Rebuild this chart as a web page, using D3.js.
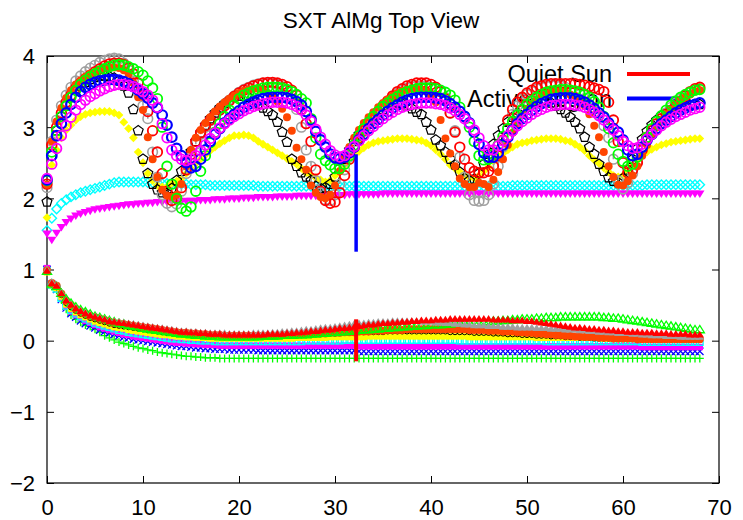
<!DOCTYPE html>
<html>
<head>
<meta charset="utf-8">
<script src="https://cdn.jsdelivr.net/npm/d3@7"></script>
<style>
  body { margin: 0; background: #fff; }
  text { font-family: "Liberation Sans", Arial, Helvetica, sans-serif; fill: #000; }
</style>
</head>
<body>
<svg id="chart" width="743" height="520"></svg>
<script>
// ---- chart text and ticks ----
const titleText = "SXT AlMg Top View";
const xTicks = [0, 10, 20, 30, 40, 50, 60, 70];
const yTicks = [-2, -1, 0, 1, 2, 3, 4];
const legendLabels = ["Quiet Sun", "Active Region"];

// samples are taken every half time unit, from t = 0 to t = 68
const timeStep = 0.5;

// ---- upper family (ratio curves, ~2 to 4) ----
const redRing = [
  2.20, 2.75, 3.00, 3.20, 3.35, 3.45, 3.55, 3.62, 3.68, 3.73,
  3.78, 3.82, 3.86, 3.89, 3.90, 3.90, 3.88, 3.83, 3.75, 3.62,
  3.45, 3.22, 2.95, 2.65, 2.35, 2.10, 1.97, 2.00, 2.15, 2.40,
  2.62, 2.80, 2.92, 3.02, 3.10, 3.17, 3.24, 3.30, 3.37, 3.43,
  3.48, 3.52, 3.55, 3.58, 3.60, 3.62, 3.63, 3.63, 3.62, 3.60,
  3.57, 3.52, 3.45, 3.25, 3.05, 2.80, 2.40, 2.10, 1.97, 1.93,
  1.95, 2.08, 2.32, 2.55, 2.72, 2.85, 2.95, 3.05, 3.13, 3.22,
  3.30, 3.37, 3.44, 3.50, 3.54, 3.58, 3.60, 3.62, 3.62, 3.62,
  3.60, 3.56, 3.50, 3.40, 3.20, 2.93, 2.72, 2.55, 2.43, 2.38,
  2.36, 2.36, 2.38, 2.45, 2.60, 2.82, 3.10, 3.25, 3.35, 3.42,
  3.48, 3.52, 3.56, 3.58, 3.60, 3.61, 3.61, 3.61, 3.61, 3.61,
  3.61, 3.60, 3.59, 3.57, 3.55, 3.53, 3.50, 3.35, 3.10, 2.80,
  2.50, 2.36, 2.40, 2.50, 2.68, 2.86, 2.95, 3.05, 3.12, 3.18,
  3.24, 3.30, 3.37, 3.44, 3.50, 3.54, 3.56
];
const grayRing = [
  2.15, 2.80, 3.10, 3.30, 3.45, 3.56, 3.65, 3.72, 3.78, 3.83,
  3.87, 3.91, 3.94, 3.96, 3.97, 3.96, 3.90, 3.80, 3.65, 3.48,
  3.30, 3.12, 2.65, 2.30, 2.05, 1.93, 1.88, 1.92, 2.10, 2.35,
  2.58, 2.76, 2.90, 3.00, 3.09, 3.17, 3.24, 3.31, 3.38, 3.44,
  3.49, 3.53, 3.56, 3.59, 3.61, 3.62, 3.62, 3.62, 3.60, 3.57,
  3.52, 3.45, 3.25, 3.00, 2.68, 2.45, 2.25, 2.08, 1.98, 1.97,
  2.05, 2.20, 2.40, 2.58, 2.72, 2.84, 2.94, 3.04, 3.12, 3.21,
  3.29, 3.36, 3.43, 3.48, 3.52, 3.55, 3.57, 3.58, 3.58, 3.58,
  3.56, 3.54, 3.50, 3.42, 3.20, 2.95, 2.58, 2.30, 2.05, 1.97,
  1.96, 1.97, 2.05, 2.20, 2.45, 2.72, 2.98, 3.18, 3.30, 3.40,
  3.46, 3.50, 3.54, 3.56, 3.58, 3.59, 3.59, 3.58, 3.56, 3.52,
  3.50, 3.46, 3.40, 3.32, 3.25, 3.17, 3.02, 2.85, 2.55, 2.25,
  2.13, 2.22, 2.35, 2.52, 2.70, 2.84, 2.95, 3.04, 3.12, 3.20,
  3.28, 3.34, 3.40, 3.45, 3.49, 3.52, 3.54
];
const greenRing = [
  2.25, 2.65, 2.95, 3.15, 3.30, 3.42, 3.52, 3.60, 3.66, 3.71,
  3.75, 3.79, 3.82, 3.85, 3.87, 3.88, 3.87, 3.85, 3.82, 3.78,
  3.73, 3.65, 3.55, 3.40, 3.00, 2.45, 2.20, 2.00, 1.86, 1.82,
  1.88, 2.10, 2.38, 2.60, 2.78, 2.93, 3.05, 3.15, 3.24, 3.31,
  3.40, 3.45, 3.48, 3.51, 3.53, 3.55, 3.56, 3.56, 3.56, 3.55,
  3.53, 3.50, 3.46, 3.40, 3.34, 3.12, 2.85, 2.62, 2.53, 2.47,
  2.42, 2.42, 2.48, 2.60, 2.75, 2.88, 2.98, 3.07, 3.15, 3.22,
  3.29, 3.34, 3.39, 3.43, 3.47, 3.50, 3.52, 3.54, 3.55, 3.55,
  3.55, 3.54, 3.52, 3.49, 3.45, 3.38, 3.28, 3.15, 3.00, 2.80,
  2.60, 2.54, 2.55, 2.62, 2.75, 2.87, 2.98, 3.08, 3.17, 3.25,
  3.32, 3.37, 3.42, 3.46, 3.49, 3.51, 3.52, 3.53, 3.53, 3.52,
  3.51, 3.49, 3.46, 3.42, 3.36, 3.28, 3.15, 2.98, 2.78, 2.62,
  2.52, 2.45, 2.48, 2.58, 2.72, 2.86, 2.98, 3.08, 3.16, 3.24,
  3.31, 3.37, 3.42, 3.46, 3.49, 3.52, 3.53
];
const blackPentagon = [
  1.95, 2.60, 2.95, 3.15, 3.30, 3.42, 3.52, 3.58, 3.63, 3.67,
  3.70, 3.72, 3.72, 3.71, 3.69, 3.65, 3.58, 3.48, 3.25, 2.95,
  2.55, 2.35, 2.20, 2.12, 2.08, 2.07, 2.14, 2.25, 2.38, 2.52,
  2.66, 2.80, 2.92, 3.03, 3.12, 3.20, 3.27, 3.33, 3.38, 3.42,
  3.44, 3.44, 3.42, 3.38, 3.33, 3.27, 3.22, 3.17, 3.07, 2.93,
  2.79, 2.55, 2.45, 2.36, 2.30, 2.25, 2.17, 2.14, 2.15, 2.20,
  2.30, 2.42, 2.55, 2.68, 2.80, 2.90, 2.98, 3.05, 3.12, 3.18,
  3.25, 3.30, 3.33, 3.34, 3.33, 3.30, 3.26, 3.21, 3.18, 3.07,
  2.96, 2.82, 2.74, 2.65, 2.55, 2.47, 2.37, 2.28, 2.25, 2.27,
  2.35, 2.48, 2.62, 2.76, 2.88, 2.98, 3.07, 3.14, 3.20, 3.25,
  3.30, 3.33, 3.35, 3.36, 3.36, 3.34, 3.30, 3.25, 3.20, 3.14,
  3.07, 2.98, 2.86, 2.72, 2.62, 2.48, 2.38, 2.29, 2.24, 2.22,
  2.28, 2.40, 2.55, 2.70, 2.83, 2.94, 3.03, 3.10, 3.16, 3.20,
  3.24, 3.27, 3.29, 3.30, 3.31, 3.32, 3.32
];
const blueRing = [
  2.26, 2.60, 2.88, 3.05, 3.20, 3.32, 3.42, 3.50, 3.56, 3.60,
  3.63, 3.65, 3.66, 3.67, 3.67, 3.66, 3.64, 3.61, 3.57, 3.52,
  3.47, 3.41, 3.34, 3.27, 3.17, 3.03, 2.86, 2.70, 2.60, 2.50,
  2.43, 2.45, 2.55, 2.68, 2.80, 2.90, 2.98, 3.06, 3.12, 3.18,
  3.23, 3.28, 3.32, 3.35, 3.38, 3.40, 3.41, 3.42, 3.42, 3.42,
  3.41, 3.39, 3.36, 3.31, 3.22, 3.10, 2.94, 2.82, 2.72, 2.62,
  2.57, 2.56, 2.58, 2.64, 2.72, 2.82, 2.90, 2.98, 3.05, 3.11,
  3.17, 3.22, 3.27, 3.31, 3.35, 3.38, 3.40, 3.41, 3.42, 3.42,
  3.42, 3.41, 3.40, 3.37, 3.33, 3.28, 3.22, 3.15, 3.06, 2.93,
  2.76, 2.64, 2.58, 2.58, 2.64, 2.75, 2.86, 2.96, 3.05, 3.12,
  3.18, 3.24, 3.29, 3.33, 3.36, 3.39, 3.40, 3.41, 3.41, 3.41,
  3.40, 3.38, 3.35, 3.31, 3.26, 3.20, 3.14, 3.06, 2.98, 2.93,
  2.82, 2.68, 2.60, 2.62, 2.72, 2.82, 2.90, 2.98, 3.05, 3.10,
  3.15, 3.20, 3.24, 3.27, 3.30, 3.32, 3.34
];
const magentaRing = [
  2.28, 2.48, 2.70, 2.88, 3.02, 3.14, 3.24, 3.32, 3.38, 3.43,
  3.47, 3.51, 3.54, 3.57, 3.59, 3.60, 3.60, 3.59, 3.57, 3.54,
  3.50, 3.45, 3.38, 3.28, 3.05, 2.85, 2.68, 2.60, 2.55, 2.53,
  2.55, 2.60, 2.67, 2.75, 2.84, 2.92, 2.99, 3.05, 3.10, 3.15,
  3.19, 3.23, 3.26, 3.29, 3.31, 3.33, 3.34, 3.35, 3.35, 3.35,
  3.34, 3.32, 3.29, 3.24, 3.17, 3.08, 2.97, 2.86, 2.76, 2.67,
  2.61, 2.58, 2.60, 2.66, 2.73, 2.81, 2.88, 2.95, 3.01, 3.07,
  3.12, 3.17, 3.21, 3.25, 3.28, 3.30, 3.32, 3.33, 3.34, 3.34,
  3.34, 3.33, 3.32, 3.30, 3.27, 3.23, 3.18, 3.12, 3.05, 2.96,
  2.85, 2.74, 2.68, 2.68, 2.74, 2.81, 2.88, 2.95, 3.02, 3.08,
  3.13, 3.18, 3.22, 3.25, 3.28, 3.30, 3.31, 3.32, 3.32, 3.32,
  3.31, 3.30, 3.28, 3.25, 3.21, 3.16, 3.10, 3.03, 2.96, 2.88,
  2.80, 2.74, 2.70, 2.71, 2.76, 2.83, 2.90, 2.96, 3.02, 3.07,
  3.11, 3.15, 3.18, 3.21, 3.24, 3.26, 3.28
];
const orangeDot = [
  2.19, 2.80, 3.08, 3.27, 3.41, 3.52, 3.60, 3.66, 3.71, 3.75,
  3.78, 3.81, 3.83, 3.84, 3.84, 3.83, 3.80, 3.75, 3.62, 3.42,
  3.24, 2.86, 2.55, 2.30, 2.12, 2.04, 2.02, 2.05, 2.20, 2.45,
  2.68, 2.85, 2.96, 3.06, 3.14, 3.22, 3.29, 3.35, 3.40, 3.44,
  3.48, 3.51, 3.53, 3.54, 3.54, 3.52, 3.48, 3.43, 3.36, 3.26,
  3.14, 2.95, 2.71, 2.55, 2.40, 2.18, 2.08, 2.02, 2.00, 2.05,
  2.18, 2.38, 2.56, 2.72, 2.85, 2.96, 3.06, 3.14, 3.21, 3.28,
  3.34, 3.39, 3.44, 3.48, 3.51, 3.53, 3.54, 3.54, 3.53, 3.50,
  3.45, 3.35, 3.10, 2.84, 2.63, 2.45, 2.28, 2.20, 2.16, 2.16,
  2.22, 2.20, 2.16, 2.26, 2.37, 2.55, 2.75, 2.92, 3.06, 3.17,
  3.26, 3.33, 3.39, 3.44, 3.47, 3.49, 3.50, 3.50, 3.49, 3.46,
  3.44, 3.39, 3.30, 3.18, 3.02, 2.86, 2.65, 2.45, 2.30, 2.19,
  2.18, 2.24, 2.32, 2.45, 2.60, 2.75, 2.88, 3.00, 3.10, 3.18,
  3.25, 3.31, 3.37, 3.42, 3.46, 3.50, 3.52
];
const yellowDiamond = [
  1.73, 2.47, 2.68, 2.85, 2.96, 3.03, 3.10, 3.15, 3.18, 3.20,
  3.21, 3.22, 3.22, 3.22, 3.20, 3.17, 3.07, 2.98, 2.85, 2.65,
  2.50, 2.35, 2.25, 2.18, 2.16, 2.16, 2.21, 2.24, 2.28, 2.35,
  2.42, 2.49, 2.55, 2.61, 2.67, 2.72, 2.77, 2.81, 2.85, 2.88,
  2.88, 2.89, 2.88, 2.85, 2.80, 2.76, 2.72, 2.68, 2.64, 2.60,
  2.56, 2.52, 2.48, 2.42, 2.36, 2.32, 2.29, 2.26, 2.23, 2.25,
  2.32, 2.40, 2.46, 2.54, 2.61, 2.66, 2.71, 2.75, 2.78, 2.80,
  2.81, 2.82, 2.83, 2.84, 2.84, 2.84, 2.83, 2.82, 2.81, 2.78,
  2.74, 2.68, 2.62, 2.55, 2.47, 2.42, 2.37, 2.32, 2.29, 2.28,
  2.32, 2.38, 2.44, 2.52, 2.58, 2.63, 2.68, 2.72, 2.76, 2.78,
  2.79, 2.81, 2.82, 2.83, 2.84, 2.84, 2.84, 2.83, 2.81, 2.80,
  2.76, 2.72, 2.67, 2.60, 2.54, 2.49, 2.43, 2.37, 2.32, 2.30,
  2.32, 2.38, 2.46, 2.54, 2.60, 2.65, 2.69, 2.72, 2.75, 2.77,
  2.79, 2.80, 2.81, 2.82, 2.83, 2.84, 2.84
];
const cyanDiamond = [
  1.55, 1.72, 1.85, 1.93, 1.98, 2.02, 2.05, 2.08, 2.10, 2.12,
  2.14, 2.16, 2.18, 2.20, 2.22, 2.23, 2.23, 2.23, 2.23, 2.23,
  2.23, 2.22, 2.22, 2.22, 2.21, 2.21, 2.21, 2.20, 2.20, 2.20,
  2.19, 2.19, 2.19, 2.19, 2.18, 2.18, 2.18, 2.18, 2.18, 2.18,
  2.18, 2.18, 2.18, 2.18, 2.17, 2.17, 2.17, 2.17, 2.17, 2.17,
  2.17, 2.17, 2.17, 2.17, 2.17, 2.17, 2.17, 2.17, 2.17, 2.17,
  2.17, 2.17, 2.17, 2.17, 2.17, 2.17, 2.17, 2.17, 2.17, 2.17,
  2.17, 2.17, 2.17, 2.17, 2.17, 2.17, 2.17, 2.17, 2.17, 2.17,
  2.17, 2.17, 2.17, 2.17, 2.17, 2.17, 2.17, 2.17, 2.17, 2.17,
  2.17, 2.17, 2.17, 2.17, 2.17, 2.17, 2.17, 2.18, 2.18, 2.18,
  2.18, 2.18, 2.18, 2.18, 2.18, 2.18, 2.18, 2.18, 2.18, 2.18,
  2.18, 2.18, 2.18, 2.18, 2.18, 2.18, 2.18, 2.18, 2.18, 2.18,
  2.18, 2.18, 2.18, 2.18, 2.18, 2.19, 2.19, 2.19, 2.19, 2.19,
  2.19, 2.19, 2.19, 2.19, 2.19, 2.19, 2.19
];
const magentaTriangle = [
  1.51, 1.42, 1.52, 1.60, 1.67, 1.72, 1.76, 1.79, 1.81, 1.83,
  1.85, 1.86, 1.87, 1.88, 1.89, 1.90, 1.91, 1.92, 1.92, 1.93,
  1.93, 1.94, 1.94, 1.95, 1.95, 1.95, 1.96, 1.96, 1.96, 1.97,
  1.97, 1.97, 1.98, 1.98, 1.98, 1.99, 1.99, 1.99, 2.00, 2.00,
  2.00, 2.01, 2.01, 2.01, 2.02, 2.02, 2.02, 2.02, 2.03, 2.03,
  2.03, 2.03, 2.04, 2.04, 2.04, 2.04, 2.04, 2.05, 2.05, 2.05,
  2.05, 2.05, 2.05, 2.06, 2.06, 2.06, 2.06, 2.06, 2.06, 2.06,
  2.07, 2.07, 2.07, 2.07, 2.07, 2.07, 2.07, 2.07, 2.07, 2.07,
  2.07, 2.07, 2.07, 2.07, 2.07, 2.07, 2.07, 2.07, 2.07, 2.07,
  2.07, 2.07, 2.07, 2.07, 2.07, 2.07, 2.07, 2.07, 2.07, 2.07,
  2.07, 2.07, 2.07, 2.07, 2.07, 2.07, 2.07, 2.07, 2.07, 2.07,
  2.07, 2.07, 2.07, 2.07, 2.07, 2.07, 2.07, 2.07, 2.07, 2.07,
  2.07, 2.07, 2.07, 2.07, 2.07, 2.07, 2.07, 2.07, 2.07, 2.07,
  2.07, 2.07, 2.07, 2.07, 2.07, 2.07, 2.07
];

// ---- lower family (residual curves, ~ -0.3 to 1) ----
const lowRed = [
  0.98, 0.80, 0.77, 0.66, 0.56, 0.50, 0.45, 0.41, 0.38, 0.35,
  0.33, 0.31, 0.29, 0.27, 0.26, 0.25, 0.24, 0.23, 0.22, 0.21,
  0.20, 0.19, 0.18, 0.17, 0.16, 0.15, 0.14, 0.13, 0.12, 0.12,
  0.11, 0.11, 0.10, 0.10, 0.09, 0.09, 0.09, 0.08, 0.08, 0.08,
  0.08, 0.08, 0.08, 0.08, 0.08, 0.08, 0.09, 0.09, 0.09, 0.09,
  0.10, 0.10, 0.11, 0.11, 0.12, 0.13, 0.13, 0.14, 0.15, 0.15,
  0.16, 0.17, 0.17, 0.18, 0.19, 0.20, 0.21, 0.22, 0.22, 0.23,
  0.24, 0.24, 0.25, 0.25, 0.26, 0.26, 0.27, 0.27, 0.28, 0.28,
  0.28, 0.29, 0.29, 0.29, 0.30, 0.30, 0.30, 0.30, 0.30, 0.30,
  0.30, 0.30, 0.30, 0.29, 0.29, 0.29, 0.29, 0.28, 0.28, 0.28,
  0.27, 0.27, 0.26, 0.25, 0.24, 0.23, 0.22, 0.21, 0.20, 0.19,
  0.18, 0.18, 0.17, 0.16, 0.16, 0.15, 0.15, 0.14, 0.14, 0.13,
  0.13, 0.12, 0.12, 0.12, 0.11, 0.11, 0.11, 0.10, 0.10, 0.10,
  0.09, 0.09, 0.09, 0.09, 0.08, 0.08, 0.08
];
const lowGray = [
  1.00, 0.82, 0.78, 0.67, 0.57, 0.51, 0.46, 0.42, 0.39, 0.36,
  0.34, 0.32, 0.30, 0.28, 0.27, 0.26, 0.25, 0.24, 0.23, 0.22,
  0.21, 0.20, 0.19, 0.18, 0.17, 0.16, 0.15, 0.14, 0.13, 0.13,
  0.12, 0.12, 0.11, 0.11, 0.10, 0.10, 0.10, 0.10, 0.09, 0.09,
  0.09, 0.09, 0.09, 0.10, 0.10, 0.10, 0.10, 0.11, 0.11, 0.12,
  0.12, 0.13, 0.13, 0.14, 0.15, 0.15, 0.16, 0.17, 0.18, 0.18,
  0.19, 0.20, 0.21, 0.22, 0.23, 0.24, 0.24, 0.25, 0.25, 0.26,
  0.26, 0.26, 0.27, 0.27, 0.27, 0.27, 0.27, 0.27, 0.26, 0.26,
  0.26, 0.25, 0.25, 0.24, 0.24, 0.23, 0.23, 0.22, 0.22, 0.21,
  0.21, 0.21, 0.20, 0.20, 0.20, 0.19, 0.19, 0.19, 0.18, 0.18,
  0.18, 0.18, 0.17, 0.17, 0.17, 0.16, 0.16, 0.16, 0.15, 0.15,
  0.15, 0.14, 0.14, 0.13, 0.13, 0.12, 0.12, 0.11, 0.11, 0.10,
  0.10, 0.10, 0.09, 0.09, 0.08, 0.08, 0.07, 0.07, 0.07, 0.06,
  0.06, 0.06, 0.05, 0.05, 0.05, 0.05, 0.05
];
const lowGreenTri = [
  0.97, 0.79, 0.76, 0.66, 0.58, 0.52, 0.47, 0.43, 0.40, 0.37,
  0.34, 0.32, 0.30, 0.28, 0.26, 0.24, 0.23, 0.21, 0.20, 0.19,
  0.17, 0.16, 0.15, 0.14, 0.13, 0.12, 0.11, 0.10, 0.09, 0.09,
  0.08, 0.07, 0.07, 0.06, 0.06, 0.06, 0.05, 0.05, 0.05, 0.05,
  0.05, 0.05, 0.05, 0.05, 0.05, 0.06, 0.06, 0.06, 0.06, 0.07,
  0.07, 0.07, 0.08, 0.08, 0.08, 0.09, 0.09, 0.10, 0.10, 0.11,
  0.11, 0.12, 0.12, 0.13, 0.13, 0.14, 0.15, 0.15, 0.16, 0.16,
  0.17, 0.17, 0.18, 0.18, 0.19, 0.19, 0.20, 0.20, 0.21, 0.21,
  0.22, 0.22, 0.22, 0.23, 0.23, 0.24, 0.24, 0.24, 0.25, 0.25,
  0.25, 0.26, 0.26, 0.27, 0.27, 0.28, 0.28, 0.29, 0.29, 0.30,
  0.30, 0.30, 0.31, 0.31, 0.32, 0.32, 0.32, 0.33, 0.33, 0.33,
  0.33, 0.33, 0.33, 0.33, 0.33, 0.33, 0.32, 0.32, 0.31, 0.31,
  0.30, 0.29, 0.28, 0.27, 0.26, 0.25, 0.24, 0.23, 0.22, 0.21,
  0.20, 0.19, 0.18, 0.17, 0.16, 0.15, 0.15
];
const lowOrange = [
  0.99, 0.81, 0.77, 0.66, 0.56, 0.50, 0.45, 0.41, 0.38, 0.35,
  0.33, 0.31, 0.29, 0.27, 0.25, 0.24, 0.23, 0.22, 0.21, 0.20,
  0.19, 0.18, 0.17, 0.16, 0.15, 0.14, 0.13, 0.12, 0.11, 0.11,
  0.10, 0.10, 0.09, 0.09, 0.08, 0.08, 0.08, 0.07, 0.07, 0.07,
  0.07, 0.07, 0.07, 0.07, 0.07, 0.07, 0.07, 0.07, 0.07, 0.08,
  0.08, 0.08, 0.08, 0.09, 0.09, 0.09, 0.10, 0.10, 0.10, 0.11,
  0.11, 0.11, 0.12, 0.12, 0.12, 0.13, 0.13, 0.13, 0.14, 0.14,
  0.14, 0.15, 0.15, 0.15, 0.15, 0.16, 0.16, 0.16, 0.16, 0.16,
  0.16, 0.16, 0.16, 0.16, 0.16, 0.16, 0.16, 0.16, 0.15, 0.15,
  0.15, 0.15, 0.14, 0.14, 0.14, 0.13, 0.13, 0.13, 0.12, 0.12,
  0.11, 0.11, 0.10, 0.10, 0.09, 0.09, 0.08, 0.08, 0.07, 0.07,
  0.06, 0.06, 0.05, 0.05, 0.05, 0.04, 0.04, 0.04, 0.03, 0.03,
  0.03, 0.03, 0.03, 0.02, 0.02, 0.02, 0.02, 0.02, 0.02, 0.02,
  0.02, 0.02, 0.02, 0.02, 0.02, 0.02, 0.02
];
const lowBlack = [
  0.97, 0.79, 0.75, 0.64, 0.53, 0.47, 0.42, 0.38, 0.35, 0.32,
  0.30, 0.28, 0.26, 0.24, 0.22, 0.21, 0.20, 0.19, 0.18, 0.17,
  0.16, 0.15, 0.14, 0.13, 0.12, 0.11, 0.11, 0.10, 0.10, 0.09,
  0.09, 0.08, 0.08, 0.08, 0.07, 0.07, 0.07, 0.07, 0.07, 0.07,
  0.07, 0.07, 0.07, 0.07, 0.07, 0.07, 0.07, 0.07, 0.08, 0.08,
  0.08, 0.08, 0.08, 0.09, 0.09, 0.09, 0.09, 0.10, 0.10, 0.10,
  0.10, 0.11, 0.11, 0.11, 0.11, 0.12, 0.12, 0.12, 0.12, 0.12,
  0.12, 0.13, 0.13, 0.13, 0.13, 0.13, 0.13, 0.13, 0.13, 0.13,
  0.13, 0.13, 0.13, 0.13, 0.12, 0.12, 0.12, 0.12, 0.12, 0.11,
  0.11, 0.11, 0.11, 0.10, 0.10, 0.10, 0.09, 0.09, 0.09, 0.08,
  0.08, 0.08, 0.07, 0.07, 0.07, 0.06, 0.06, 0.06, 0.05, 0.05,
  0.05, 0.04, 0.04, 0.04, 0.03, 0.03, 0.03, 0.03, 0.02, 0.02,
  0.02, 0.02, 0.02, 0.01, 0.01, 0.01, 0.01, 0.01, 0.01, 0.01,
  0.01, 0.01, 0.01, 0.01, 0.01, 0.01, 0.01
];
const lowYellow = [
  0.96, 0.78, 0.74, 0.62, 0.51, 0.45, 0.40, 0.36, 0.33, 0.30,
  0.27, 0.25, 0.23, 0.21, 0.19, 0.18, 0.17, 0.15, 0.14, 0.13,
  0.12, 0.11, 0.10, 0.09, 0.08, 0.08, 0.07, 0.06, 0.06, 0.05,
  0.05, 0.04, 0.04, 0.04, 0.03, 0.03, 0.03, 0.03, 0.03, 0.03,
  0.03, 0.03, 0.03, 0.03, 0.03, 0.03, 0.03, 0.03, 0.03, 0.03,
  0.03, 0.03, 0.04, 0.04, 0.04, 0.04, 0.04, 0.04, 0.04, 0.05,
  0.05, 0.05, 0.05, 0.05, 0.05, 0.05, 0.05, 0.06, 0.06, 0.06,
  0.06, 0.06, 0.06, 0.06, 0.06, 0.06, 0.06, 0.06, 0.06, 0.06,
  0.06, 0.06, 0.06, 0.06, 0.06, 0.06, 0.06, 0.06, 0.05, 0.05,
  0.05, 0.05, 0.05, 0.05, 0.05, 0.05, 0.05, 0.05, 0.05, 0.05,
  0.05, 0.05, 0.04, 0.04, 0.04, 0.04, 0.04, 0.04, 0.04, 0.04,
  0.04, 0.04, 0.04, 0.04, 0.04, 0.04, 0.03, 0.03, 0.03, 0.03,
  0.03, 0.03, 0.03, 0.03, 0.03, 0.03, 0.03, 0.03, 0.03, 0.03,
  0.03, 0.03, 0.03, 0.03, 0.03, 0.03, 0.03
];
const lowCyan = [
  0.98, 0.78, 0.73, 0.60, 0.49, 0.43, 0.38, 0.34, 0.31, 0.28,
  0.25, 0.23, 0.21, 0.19, 0.17, 0.15, 0.14, 0.12, 0.11, 0.10,
  0.09, 0.08, 0.07, 0.06, 0.05, 0.04, 0.03, 0.03, 0.02, 0.02,
  0.01, 0.01, 0.00, 0.00, 0.00, -0.01, -0.01, -0.01, -0.01, -0.01,
  -0.01, -0.01, -0.01, -0.01, -0.01, -0.01, -0.01, -0.01, -0.01, -0.01,
  -0.01, -0.01, -0.01, -0.01, 0.00, 0.00, 0.00, 0.00, 0.00, 0.00,
  0.00, 0.00, 0.01, 0.01, 0.01, 0.01, 0.01, 0.01, 0.01, 0.01,
  0.01, 0.01, 0.01, 0.01, 0.01, 0.01, 0.01, 0.01, 0.01, 0.01,
  0.01, 0.01, 0.01, 0.01, 0.01, 0.01, 0.00, 0.00, 0.00, 0.00,
  0.00, 0.00, 0.00, 0.00, 0.00, 0.00, 0.00, 0.00, 0.00, 0.00,
  0.00, 0.00, 0.00, 0.00, -0.01, -0.01, -0.01, -0.01, -0.01, -0.01,
  -0.01, -0.01, -0.01, -0.01, -0.01, -0.01, -0.01, -0.01, -0.01, -0.01,
  -0.01, -0.01, -0.01, -0.01, -0.02, -0.02, -0.02, -0.02, -0.02, -0.02,
  -0.02, -0.02, -0.02, -0.02, -0.02, -0.02, -0.02
];
const lowMagenta = [
  1.02, 0.80, 0.74, 0.60, 0.48, 0.41, 0.36, 0.32, 0.28, 0.25,
  0.22, 0.19, 0.17, 0.15, 0.13, 0.11, 0.09, 0.08, 0.06, 0.05,
  0.04, 0.03, 0.02, 0.01, 0.00, -0.01, -0.02, -0.03, -0.03, -0.04,
  -0.04, -0.05, -0.05, -0.06, -0.06, -0.06, -0.07, -0.07, -0.07, -0.07,
  -0.07, -0.07, -0.07, -0.07, -0.07, -0.07, -0.07, -0.07, -0.07, -0.07,
  -0.07, -0.07, -0.07, -0.07, -0.07, -0.07, -0.07, -0.07, -0.07, -0.07,
  -0.07, -0.07, -0.07, -0.07, -0.07, -0.08, -0.08, -0.08, -0.08, -0.08,
  -0.08, -0.08, -0.08, -0.08, -0.08, -0.08, -0.08, -0.08, -0.08, -0.08,
  -0.08, -0.08, -0.08, -0.08, -0.08, -0.08, -0.08, -0.08, -0.08, -0.08,
  -0.08, -0.08, -0.08, -0.08, -0.08, -0.08, -0.08, -0.08, -0.08, -0.08,
  -0.08, -0.08, -0.08, -0.08, -0.08, -0.08, -0.08, -0.08, -0.08, -0.08,
  -0.08, -0.08, -0.08, -0.08, -0.08, -0.08, -0.08, -0.08, -0.08, -0.08,
  -0.08, -0.08, -0.08, -0.08, -0.09, -0.09, -0.09, -0.09, -0.09, -0.09,
  -0.09, -0.09, -0.09, -0.09, -0.09, -0.09, -0.09
];
const lowBlue = [
  1.00, 0.79, 0.72, 0.58, 0.46, 0.38, 0.33, 0.28, 0.24, 0.21,
  0.18, 0.15, 0.13, 0.11, 0.09, 0.07, 0.05, 0.04, 0.02, 0.01,
  0.00, -0.01, -0.02, -0.03, -0.04, -0.05, -0.06, -0.07, -0.08, -0.08,
  -0.09, -0.10, -0.10, -0.11, -0.11, -0.12, -0.12, -0.12, -0.13, -0.13,
  -0.13, -0.13, -0.13, -0.13, -0.14, -0.14, -0.14, -0.14, -0.14, -0.14,
  -0.14, -0.14, -0.14, -0.14, -0.14, -0.14, -0.14, -0.14, -0.14, -0.14,
  -0.14, -0.14, -0.14, -0.14, -0.14, -0.15, -0.15, -0.15, -0.15, -0.15,
  -0.15, -0.15, -0.15, -0.15, -0.15, -0.15, -0.15, -0.15, -0.15, -0.15,
  -0.15, -0.15, -0.15, -0.15, -0.15, -0.15, -0.15, -0.15, -0.15, -0.15,
  -0.15, -0.15, -0.15, -0.15, -0.15, -0.15, -0.15, -0.15, -0.15, -0.15,
  -0.15, -0.15, -0.15, -0.15, -0.15, -0.15, -0.15, -0.15, -0.15, -0.15,
  -0.15, -0.15, -0.15, -0.15, -0.15, -0.15, -0.15, -0.15, -0.15, -0.15,
  -0.15, -0.15, -0.15, -0.15, -0.15, -0.15, -0.15, -0.15, -0.15, -0.15,
  -0.15, -0.15, -0.15, -0.15, -0.15, -0.15, -0.15
];
const lowGreenPlus = [
  0.99, 0.76, 0.71, 0.57, 0.44, 0.36, 0.30, 0.26, 0.22, 0.20,
  0.16, 0.12, 0.07, 0.04, 0.01, -0.02, -0.04, -0.06, -0.08, -0.10,
  -0.11, -0.13, -0.14, -0.16, -0.17, -0.18, -0.19, -0.20, -0.21, -0.22,
  -0.22, -0.23, -0.23, -0.24, -0.24, -0.24, -0.25, -0.25, -0.25, -0.25,
  -0.25, -0.25, -0.25, -0.25, -0.25, -0.25, -0.25, -0.25, -0.25, -0.25,
  -0.25, -0.25, -0.25, -0.25, -0.25, -0.25, -0.25, -0.25, -0.25, -0.25,
  -0.25, -0.25, -0.25, -0.25, -0.25, -0.25, -0.25, -0.25, -0.25, -0.25,
  -0.25, -0.25, -0.25, -0.25, -0.25, -0.25, -0.25, -0.25, -0.25, -0.25,
  -0.25, -0.25, -0.25, -0.25, -0.25, -0.25, -0.25, -0.25, -0.25, -0.25,
  -0.25, -0.25, -0.25, -0.25, -0.25, -0.25, -0.25, -0.25, -0.25, -0.25,
  -0.25, -0.25, -0.25, -0.25, -0.25, -0.25, -0.25, -0.25, -0.25, -0.25,
  -0.25, -0.25, -0.25, -0.25, -0.25, -0.25, -0.25, -0.25, -0.25, -0.25,
  -0.25, -0.25, -0.25, -0.25, -0.25, -0.25, -0.25, -0.25, -0.25, -0.25,
  -0.25, -0.25, -0.25, -0.25, -0.25, -0.25, -0.25
];

// ---- the two reference bars (Quiet Sun / Active Region) ----
const quietSunTime = [32.2, 32.2];
const quietSunLevel = [-0.29, 0.30];
const activeRegionTime = [32.2, 32.2];
const activeRegionLevel = [1.25, 2.62];

// ---- layout ----
const svg = d3.select("#chart");
const plot = { left: 47, right: 719, top: 56, bottom: 483 };
const x = d3.scaleLinear().domain([0, 70]).range([plot.left, plot.right]);
const y = d3.scaleLinear().domain([-2, 4]).range([plot.bottom, plot.top]);
const fontSize = 22;

// title
svg.append("text")
  .attr("x", (plot.left + plot.right) / 2 - 2).attr("y", 28)
  .attr("text-anchor", "middle").attr("font-size", 22.5)
  .text(titleText);

// axes: gnuplot style, ticks pointing inward and mirrored
const tickLen = 7;
const gx = svg.append("g").attr("transform", `translate(0,${plot.bottom})`)
  .call(d3.axisBottom(x).tickValues(xTicks).tickSize(-tickLen).tickPadding(16).tickFormat(d3.format("d")));
const gxTop = svg.append("g").attr("transform", `translate(0,${plot.top})`)
  .call(d3.axisTop(x).tickValues(xTicks).tickSize(-tickLen).tickFormat(""));
const gy = svg.append("g").attr("transform", `translate(${plot.left},0)`)
  .call(d3.axisLeft(y).tickValues(yTicks).tickSize(-tickLen).tickPadding(12).tickFormat(d3.format("d")));
const gyRight = svg.append("g").attr("transform", `translate(${plot.right},0)`)
  .call(d3.axisRight(y).tickValues(yTicks).tickSize(-tickLen).tickFormat(""));
[gx, gxTop, gy, gyRight].forEach(g => {
  g.select(".domain").remove();
  g.selectAll(".tick line").attr("stroke", "#000").attr("stroke-width", 1);
  g.selectAll(".tick text").attr("font-size", fontSize)
    .attr("font-family", "'Liberation Sans', Arial, sans-serif").attr("fill", "#000");
});
gy.selectAll(".tick text").attr("dy", "0.36em");

// frame
svg.append("rect")
  .attr("x", plot.left).attr("y", plot.top)
  .attr("width", plot.right - plot.left).attr("height", plot.bottom - plot.top)
  .attr("fill", "none").attr("stroke", "#000").attr("stroke-width", 1.2);

// legend (key drawn first, the point clouds pass over it)
const legendColors = ["#ff0000", "#0000ff"];
legendLabels.forEach((label, i) => {
  const ly = 74 + i * 24.5;
  svg.append("text")
    .attr("x", 612).attr("y", ly + 8)
    .attr("text-anchor", "end").attr("font-size", 23.5)
    .text(label);
  svg.append("line")
    .attr("x1", 627).attr("x2", 690).attr("y1", ly).attr("y2", ly)
    .attr("stroke", legendColors[i]).attr("stroke-width", 4);
});

// ---- point shapes ----
const shape = {
  circle: r => `M${r},0A${r},${r} 0 1,1 ${-r},0A${r},${r} 0 1,1 ${r},0Z`,
  clock: r => `M${r},0A${r},${r} 0 1,1 ${-r},0A${r},${r} 0 1,1 ${r},0ZM0,0V${-r}`,
  pentagon: r => "M" + d3.range(5).map(k => {
    const a = -Math.PI / 2 + k * 2 * Math.PI / 5;
    return [(r * Math.cos(a)).toFixed(2), (r * Math.sin(a)).toFixed(2)].join(",");
  }).join("L") + "Z",
  diamond: r => `M0,${-r}L${r},0L0,${r}L${-r},0Z`,
  triDown: r => `M${-r},${-r * 0.6}L${r},${-r * 0.6}L0,${r}Z`,
  triUp: r => `M${-r},${r * 0.6}L${r},${r * 0.6}L0,${-r}Z`,
  plus: r => `M${-r},0H${r}M0,${-r}V${r}`,
  cross: r => `M${-r},${-r}L${r},${r}M${-r},${r}L${r},${-r}`,
  square: r => `M${-r},${-r}H${r}V${r}H${-r}Z`
};

function drawSeries(values, s) {
  const d = shape[s.shape](s.r);
  svg.append("g").selectAll("path")
    .data(values)
    .join("path")
    .attr("transform", (v, i) => `translate(${x(i * timeStep).toFixed(2)},${y(v).toFixed(2)})`)
    .attr("d", d)
    .attr("fill", s.fill || "none")
    .attr("stroke", s.stroke || "none")
    .attr("stroke-width", s.sw || 0);
}

// lower family
const lowerSeries = [
  [lowGreenPlus, { shape: "plus", r: 4, stroke: "#00ff00", sw: 1.3 }],
  [lowBlue, { shape: "cross", r: 3.7, stroke: "#0000ff", sw: 1.3 }],
  [lowMagenta, { shape: "square", r: 3.2, fill: "#ff00ff" }],
  [lowCyan, { shape: "square", r: 3.3, stroke: "#00ffff", sw: 1.3 }],
  [lowYellow, { shape: "square", r: 3.2, fill: "#ffff00" }],
  [lowBlack, { shape: "circle", r: 2.6, stroke: "#000000", sw: 1 }],
  [lowOrange, { shape: "circle", r: 4, fill: "#ff4500" }],
  [lowGreenTri, { shape: "triUp", r: 4.6, stroke: "#00ff00", sw: 1.3 }],
  [lowGray, { shape: "triUp", r: 4.2, fill: "#a0a0a0" }],
  [lowRed, { shape: "triUp", r: 4.2, fill: "#ff0000" }]
];
lowerSeries.forEach(([v, s]) => drawSeries(v, s));

// upper family
const upperSeries = [
  [cyanDiamond, { shape: "diamond", r: 4.7, stroke: "#00ffff", sw: 1.4 }],
  [magentaTriangle, { shape: "triDown", r: 4.7, fill: "#ff00ff" }],
  [yellowDiamond, { shape: "diamond", r: 4.4, fill: "#ffff00" }],
  [blackPentagon, { shape: "pentagon", r: 5.2, stroke: "#000000", sw: 1.2 }],
  [grayRing, { shape: "clock", r: 4.8, stroke: "#a0a0a0", sw: 1.6 }],
  [redRing, { shape: "circle", r: 4.8, stroke: "#ff0000", sw: 1.8 }],
  [orangeDot, { shape: "circle", r: 4, fill: "#ff4500" }],
  [greenRing, { shape: "circle", r: 4.8, stroke: "#00ff00", sw: 1.8 }],
  [blueRing, { shape: "circle", r: 4.8, stroke: "#0000ff", sw: 2.2 }],
  [magentaRing, { shape: "circle", r: 4.8, stroke: "#ff00ff", sw: 1.8 }]
];
upperSeries.forEach(([v, s]) => drawSeries(v, s));

// reference bars drawn on top
const bar = d3.line().x(d => x(d[0])).y(d => y(d[1]));
svg.append("path")
  .attr("d", bar(d3.zip(activeRegionTime, activeRegionLevel)))
  .attr("stroke", "#0000ff").attr("stroke-width", 3.5).attr("fill", "none");
svg.append("path")
  .attr("d", bar(d3.zip(quietSunTime, quietSunLevel)))
  .attr("stroke", "#ff0000").attr("stroke-width", 4).attr("fill", "none");
</script>
</body>
</html>
